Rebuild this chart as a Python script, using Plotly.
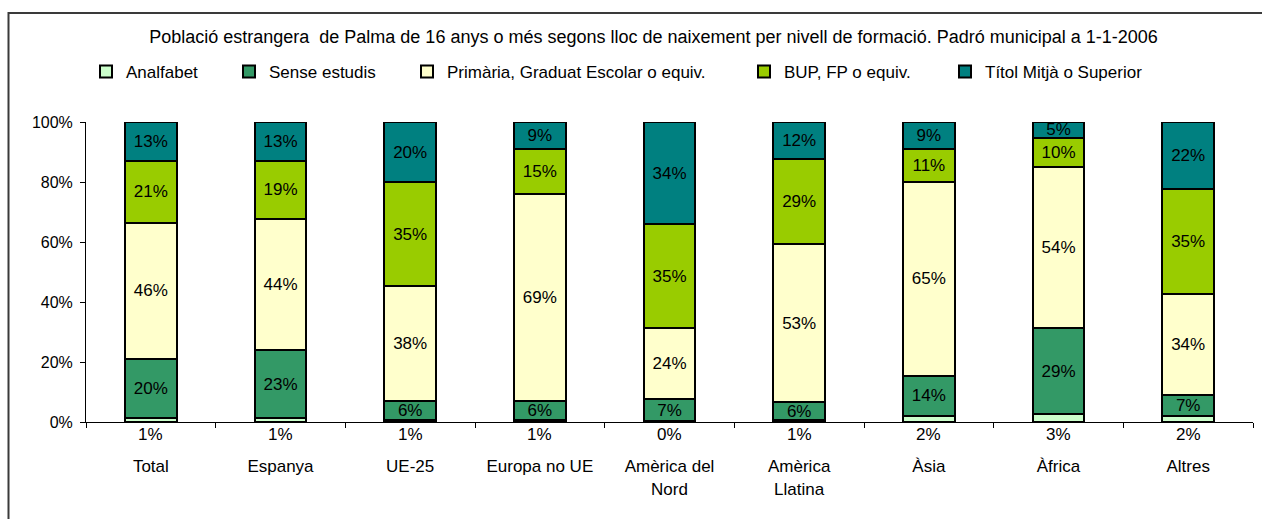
import plotly.graph_objects as go

categories = ["Total", "Espanya", "UE-25", "Europa no UE", "Amèrica del<br>Nord",
              "Amèrica<br>Llatina", "Àsia", "Àfrica", "Altres"]

analfabet = [1.3, 1.3, 0.7, 0.8, 0.4, 0.7, 1.9, 2.6, 1.9]
sense_estudis = [19.6, 22.6, 6.4, 6.3, 7.2, 5.9, 13.6, 28.6, 7.1]
primaria = [45.6, 43.8, 38.2, 69.0, 23.7, 52.6, 64.6, 53.9, 33.8]
bup_fp = [20.6, 19.4, 34.7, 14.8, 34.6, 28.6, 10.9, 9.7, 34.9]
titol = [12.9, 12.9, 20.0, 9.1, 34.1, 12.2, 9.0, 5.2, 22.3]

series_names = ["Analfabet", "Sense estudis", "Primària, Graduat Escolar o equiv.",
                "BUP, FP o equiv.", "Títol Mitjà o Superior"]
series_values = [analfabet, sense_estudis, primaria, bup_fp, titol]
colors = ["#CCFFCC", "#339966", "#FFFFCC", "#99CC00", "#008080"]

title_text = ("Població estrangera  de Palma de 16 anys o més segons lloc de naixement "
              "per nivell de formació. Padró municipal a 1-1-2006")
y_ticks = [0, 20, 40, 60, 80, 100]

FONT = "Liberation Sans, Arial, sans-serif"
FS = 17

W, H = 1262, 519
ML, MR, MT, MB = 86, 9, 122, 97
PW = W - ML - MR
PH = H - MT - MB

def px_x(px):
    return (px - ML) / PW

def px_y(py):
    return (H - MB - py) / PH

# legend text starting x positions (pixels) from the reference
legend_text_x = [126, 269, 447, 784, 985]

fig = go.Figure()
for i, (name, vals, col) in enumerate(zip(series_names, series_values, colors)):
    txt = None if i == 0 else [f"{round(v)}%" for v in vals]
    fig.add_trace(go.Bar(
        x=categories, y=vals, name=name,
        marker=dict(color=col, line=dict(color="#000000", width=2)),
        text=txt, textposition="inside" if i else "none",
        insidetextanchor="middle", textangle=0, constraintext="none",
        insidetextfont=dict(family=FONT, size=FS, color="#000000"),
        hoverinfo="x+y+name",
        legend="legend" if i == 0 else f"legend{i+1}",
    ))

# Analfabet labels shown under the axis
for c, v in zip(categories, analfabet):
    fig.add_annotation(x=c, y=0, yref="y", text=f"{round(v)}%", showarrow=False,
                       yanchor="top", yshift=-1,
                       font=dict(family=FONT, size=FS, color="#000000"))

# chart border (cut off on the right and bottom as in the reference)
fig.add_shape(type="rect", xref="paper", yref="paper",
              x0=px_x(8.5), x1=px_x(W + 10), y0=px_y(H + 10), y1=px_y(13),
              line=dict(color="#3a3a3a", width=2), fillcolor="rgba(0,0,0,0)", layer="above")

layout_legends = {}
for i, tx in enumerate(legend_text_x):
    key = "legend" if i == 0 else f"legend{i+1}"
    layout_legends[key] = dict(
        x=px_x(tx - 40), xanchor="left", y=px_y(72), yanchor="middle",
        orientation="h", bgcolor="rgba(0,0,0,0)", borderwidth=0,
        font=dict(family=FONT, size=FS, color="#000000"),
        itemclick=False, itemdoubleclick=False,
    )

fig.update_layout(
    width=W, height=H,
    margin=dict(l=ML, r=MR, t=MT, b=MB, autoexpand=False),
    paper_bgcolor="#FFFFFF", plot_bgcolor="#FFFFFF",
    barmode="stack", bargap=0.6,
    font=dict(family=FONT, size=FS, color="#000000"),
    title=dict(text=title_text, x=653.5 / W, xanchor="center", xref="container",
               y=1 - 37 / H, yanchor="middle", yref="container",
               font=dict(family=FONT, size=18, color="#000000")),
    showlegend=True,
    xaxis=dict(showline=True, linecolor="#000000", linewidth=1,
               ticks="outside", ticklen=5, tickcolor="#000000", tickwidth=1,
               tickson="boundaries", showgrid=False, zeroline=False,
               ticklabelstandoff=29,
               tickfont=dict(family=FONT, size=FS, color="#000000")),
    yaxis=dict(range=[0, 100], showline=True, linecolor="#000000", linewidth=1,
               ticks="outside", ticklen=5, tickcolor="#000000", tickwidth=1,
               tickvals=y_ticks, ticktext=[f"{t}%" for t in y_ticks],
               showgrid=False, zeroline=False, ticklabelstandoff=4,
               tickfont=dict(family=FONT, size=16, color="#000000")),
    **layout_legends,
)

fig.write_html("out.html", config={"displayModeBar": False},
               post_script="document.body.style.margin='0px';")
